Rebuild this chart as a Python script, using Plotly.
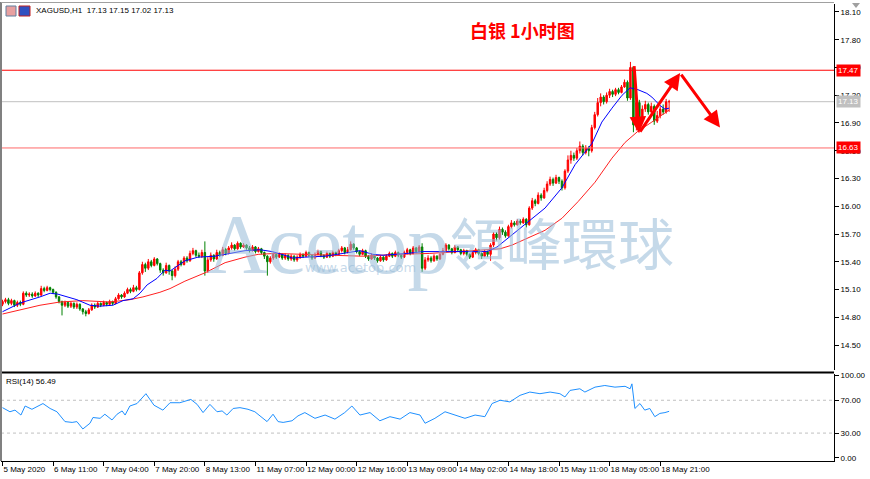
import plotly.graph_objects as go

# ---------------- data ----------------
first_open = 14.94
closes = [
    14.97,14.99,14.95,14.98,14.93,14.96,14.94,15.06,15.04,15.05,
    15.03,15.06,15.04,15.11,15.09,15.12,15.10,15.07,15.02,14.97,
    14.93,14.96,14.92,14.95,14.91,14.94,14.89,14.86,14.84,14.88,
    14.93,14.91,14.95,14.93,14.96,14.94,14.97,14.95,15.00,15.04,
    15.02,15.06,15.10,15.08,15.12,15.10,15.28,15.37,15.33,15.40,
    15.36,15.43,15.38,15.31,15.28,15.36,15.30,15.25,15.32,15.40,
    15.37,15.44,15.41,15.49,15.52,15.47,15.46,15.50,15.30,15.42,
    15.47,15.43,15.50,15.47,15.53,15.49,15.55,15.58,15.54,15.60,
    15.56,15.58,15.55,15.52,15.56,15.51,15.54,15.50,15.46,15.40,
    15.44,15.48,15.45,15.48,15.44,15.47,15.43,15.46,15.42,15.45,
    15.48,15.46,15.50,15.47,15.44,15.48,15.51,15.47,15.45,15.49,
    15.46,15.50,15.48,15.52,15.55,15.50,15.53,15.59,15.55,15.51,
    15.48,15.52,15.46,15.43,15.47,15.44,15.41,15.45,15.42,15.46,
    15.49,15.46,15.50,15.47,15.45,15.50,15.53,15.49,15.55,15.51,
    15.56,15.33,15.42,15.44,15.41,15.46,15.43,15.48,15.52,15.58,
    15.54,15.50,15.56,15.53,15.49,15.52,15.48,15.45,15.50,15.53,
    15.49,15.46,15.51,15.48,15.58,15.70,15.66,15.75,15.72,15.68,
    15.78,15.82,15.80,15.84,15.82,15.86,15.80,15.98,16.06,16.03,
    16.12,16.09,16.17,16.24,16.29,16.25,16.31,16.27,16.20,16.38,
    16.50,16.55,16.52,16.60,16.65,16.58,16.63,16.60,16.85,16.99,
    17.12,17.18,17.13,17.20,17.24,17.21,17.26,17.23,17.29,17.34,
    17.17,17.50,16.88,17.12,16.95,17.05,17.10,17.02,17.08,16.92,
    16.98,17.05,17.02,17.13,17.13,
]
highs = [
    14.99,15.01,15.01,15.00,14.99,14.98,14.98,15.08,15.08,15.07,
    15.07,15.08,15.07,15.14,15.13,15.14,15.13,15.11,15.08,15.03,
    14.98,14.98,14.97,14.97,14.96,14.96,14.95,14.90,14.88,14.90,
    14.95,14.95,14.97,14.96,14.98,14.97,14.99,14.98,15.02,15.06,
    15.05,15.08,15.12,15.12,15.15,15.14,15.30,15.40,15.39,15.43,
    15.42,15.45,15.44,15.39,15.33,15.39,15.37,15.31,15.35,15.42,
    15.42,15.46,15.46,15.52,15.55,15.53,15.50,15.53,15.62,15.45,
    15.50,15.48,15.53,15.52,15.56,15.55,15.57,15.61,15.59,15.62,
    15.61,15.60,15.59,15.57,15.58,15.57,15.56,15.55,15.51,15.47,
    15.46,15.50,15.49,15.50,15.49,15.49,15.48,15.48,15.47,15.47,
    15.50,15.49,15.52,15.51,15.48,15.50,15.53,15.52,15.48,15.51,
    15.50,15.52,15.51,15.54,15.57,15.56,15.56,15.62,15.60,15.56,
    15.52,15.54,15.53,15.47,15.49,15.48,15.45,15.47,15.46,15.48,
    15.51,15.50,15.52,15.51,15.48,15.52,15.55,15.54,15.57,15.56,
    15.58,15.60,15.45,15.47,15.46,15.48,15.47,15.50,15.55,15.60,
    15.59,15.55,15.58,15.57,15.54,15.54,15.53,15.49,15.52,15.55,
    15.54,15.50,15.53,15.52,15.60,15.72,15.72,15.78,15.77,15.74,
    15.80,15.85,15.84,15.86,15.86,15.88,15.87,16.00,16.09,16.08,
    16.15,16.14,16.20,16.27,16.32,16.31,16.34,16.32,16.29,16.40,
    16.55,16.60,16.58,16.63,16.70,16.67,16.66,16.65,16.88,17.02,
    17.17,17.22,17.20,17.23,17.27,17.26,17.28,17.28,17.31,17.37,
    17.36,17.56,17.51,17.18,17.15,17.09,17.14,17.12,17.12,17.10,
    17.03,17.08,17.10,17.16,17.15,
]
lows = [
    14.92,14.95,14.93,14.93,14.91,14.91,14.92,14.93,15.02,15.02,
    15.01,15.02,15.02,15.03,15.07,15.08,15.08,15.05,15.00,14.95,
    14.82,14.91,14.90,14.90,14.89,14.89,14.87,14.83,14.81,14.83,
    14.87,14.89,14.90,14.91,14.92,14.92,14.93,14.93,14.94,14.99,
    15.00,15.01,15.05,15.06,15.07,15.08,15.09,15.26,15.29,15.31,
    15.34,15.35,15.36,15.28,15.25,15.27,15.26,15.20,15.23,15.30,
    15.35,15.36,15.39,15.40,15.47,15.45,15.44,15.44,15.25,15.28,
    15.40,15.40,15.42,15.45,15.46,15.47,15.48,15.53,15.52,15.53,
    15.54,15.55,15.53,15.50,15.51,15.49,15.50,15.48,15.43,15.25,
    15.38,15.42,15.43,15.44,15.42,15.42,15.41,15.41,15.40,15.40,
    15.43,15.44,15.45,15.45,15.42,15.43,15.47,15.45,15.43,15.44,
    15.44,15.45,15.46,15.47,15.50,15.48,15.49,15.52,15.53,15.49,
    15.46,15.47,15.44,15.41,15.42,15.42,15.39,15.40,15.40,15.41,
    15.45,15.44,15.45,15.45,15.43,15.44,15.48,15.47,15.48,15.49,
    15.50,15.29,15.31,15.40,15.39,15.40,15.41,15.42,15.47,15.51,
    15.52,15.48,15.49,15.51,15.47,15.47,15.46,15.43,15.44,15.48,
    15.47,15.43,15.45,15.45,15.41,15.56,15.63,15.64,15.69,15.66,
    15.67,15.76,15.78,15.79,15.80,15.81,15.77,15.79,15.96,16.00,
    16.02,16.06,16.08,16.15,16.22,16.22,16.24,16.24,16.17,16.18,
    16.36,16.46,16.49,16.50,16.57,16.55,16.56,16.54,16.58,16.83,
    16.97,17.08,17.10,17.11,17.17,17.18,17.19,17.21,17.22,17.28,
    17.14,17.15,16.80,16.82,16.90,16.93,17.02,16.99,17.00,16.88,
    16.90,16.95,16.99,17.00,17.02,
]
opens = [first_open] + closes[:-1]
bars = list(range(len(closes)))

# moving averages (bar index, price)
ma_fast_x = [0,6,12.6,16,18.6,21.7,25,29.4,32.8,37.1,40.5,43.9,46.2,48.6,51.9,54.6,56.3,61.3,65.7,71.4,77.1,81.5,86.5,90.6,94.9,97.3,101.6,108.4,114.4,120.1,124.5,127.9,135.9,141.3,147,154.7,162.8,166.2,171.2,176.6,182.3,188,192.4,198.1,201.4,204.8,208.2,210.9,213.5,216.5,218.2,220.9,222.6,224]
ma_fast_y = [14.86,14.955,15.02,15.06,15.05,15.02,14.99,14.93,14.92,14.93,14.98,15.00,15.06,15.15,15.22,15.31,15.30,15.41,15.45,15.46,15.49,15.52,15.53,15.51,15.47,15.44,15.45,15.46,15.49,15.52,15.48,15.47,15.49,15.51,15.51,15.51,15.51,15.56,15.69,15.83,15.98,16.20,16.45,16.68,16.91,17.06,17.20,17.28,17.26,17.22,17.18,17.09,17.05,17.06]
ma_slow_x = [0,5.9,12.6,19.3,27,36.1,42.8,47.2,52.9,56.3,61.3,68,74.8,81.5,85.9,91.6,99.3,110.7,121.1,132.6,143.6,154.7,163.8,167.2,171.2,176.6,182.3,188,193.4,199.1,204.8,209.2,213.5,218.2,222.6,224]
ma_slow_y = [14.835,14.88,14.93,14.965,14.98,14.965,14.99,15.02,15.07,15.11,15.19,15.28,15.39,15.45,15.48,15.49,15.48,15.47,15.46,15.48,15.49,15.51,15.53,15.54,15.58,15.66,15.74,15.87,16.05,16.26,16.52,16.69,16.81,16.91,17.01,17.04]

# RSI(14)
rsi_x = [0,2.5,4.2,6.2,7.6,9.9,13.6,16,18.3,21,23.4,25,27,29.4,30.4,32.8,34.4,36.8,38.5,40.2,41.2,42.8,45.2,48.2,50.9,53.9,56.3,59.6,63.3,65.4,67.4,69.7,72.1,73.8,75.4,77.5,79.8,82.5,84.8,86.5,88.9,90.9,92.6,94.3,97.3,99.3,
         101.6,105,108.4,111.7,115,117.4,120.1,123.5,126.8,130.2,133.6,136.9,140.3,142,145.3,148.7,152,155.4,158.8,162.1,164.5,167.2,170.5,173.9,177.2,180.6,184,187.3,189,190.7,194,195.7,199.1,202.4,205.8,209.2,210.9,211.5,212.5,214.2,215.8,217.5,219.2,220.9,222.6,224]
rsi_y = [61,56,58,52,63,59,66,60,56,44,43,44,35,42,49,48,53,46,53,57,52,63,66,78,64,58,67,67,71,65,55,65,56,57,52,60,61,59,56,51,44,53,44,43,45,51,
         55,48,52,47,55,63,52,55,45,50,47,55,52,42,48,56,52,48,52,50,66,70,68,76,80,78,80,78,74,82,84,80,86,88,86,87,84,90,60,66,58,60,50,54,55,56.5]

rsi_levels = [70, 30]
resistance = 17.47
support = 16.63
bid = 17.13

tick_bars = [0,17,34,51,68,85,102,119,136,153,170,187,204,221]
tick_text = ["5 May 2020","6 May 11:00","7 May 04:00","7 May 20:00","8 May 13:00",
             "11 May 07:00","12 May 00:00","12 May 16:00","13 May 09:00","14 May 02:00",
             "14 May 18:00","15 May 11:00","18 May 05:00","18 May 21:00"]
price_ticks = [14.50,14.80,15.10,15.40,15.70,16.00,16.30,16.60,16.90,17.20,17.50,17.80,18.10]
rsi_ticks = [0,30,70,100]

# arrows drawn on the chart: (tail bar, tail price, head bar, head price)
arrows = [(212.2,17.53,213.9,16.79),(213.9,16.79,227.7,17.44),(227.7,17.44,241.1,16.85)]

header = "XAGUSD,H1  17.13 17.15 17.02 17.13"
title = "白银 1小时图"
rsi_label = "RSI(14) 56.49"

# ---------------- figure ----------------
W, H = 870, 479
ML, MR, MT, MB = 1, 36, 4, 18
plot_h = H - MT - MB
def py(pix):  # pixel y -> paper y
    return (H - MB - pix) / plot_h
def px(pix):
    return (pix - ML) / (W - ML - MR)

FONT = "Liberation Sans"
fig = go.Figure()

fig.add_trace(go.Candlestick(
    x=bars, open=opens, high=highs, low=lows, close=closes,
    increasing=dict(line=dict(color="#ff0000", width=1), fillcolor="#ff0000"),
    decreasing=dict(line=dict(color="#008000", width=1), fillcolor="#008000"),
    whiskerwidth=0, xaxis="x", yaxis="y", hoverinfo="skip", showlegend=False))
fig.add_trace(go.Scatter(x=ma_slow_x, y=ma_slow_y, mode="lines",
                         line=dict(color="#ff2020", width=1), xaxis="x", yaxis="y", showlegend=False))
fig.add_trace(go.Scatter(x=ma_fast_x, y=ma_fast_y, mode="lines",
                         line=dict(color="#0000ff", width=1), xaxis="x", yaxis="y", showlegend=False))
fig.add_trace(go.Scatter(x=rsi_x, y=rsi_y, mode="lines",
                         line=dict(color="#1e90ff", width=1), xaxis="x2", yaxis="y2", showlegend=False))

xr = [-0.5, (W - ML - MR - 1.5) / 2.976]
price_range = [14.23, 18.186]
rsi_range = [-4, 102]
price_dom = [py(370), 1]
rsi_dom = [0, py(374)]

fig.update_layout(
    width=W, height=H, margin=dict(l=ML, r=MR, t=MT, b=MB, autoexpand=False),
    paper_bgcolor="white", plot_bgcolor="white",
    font=dict(family=FONT, size=8, color="black"),
    showlegend=False,
    xaxis=dict(domain=[0, 1], range=xr, anchor="y", showticklabels=False, ticks="",
               showgrid=False, zeroline=False, rangeslider=dict(visible=False), fixedrange=True,
               automargin=False),
    xaxis2=dict(domain=[0, 1], range=xr, anchor="y2", matches="x", tickmode="array",
                tickvals=tick_bars, ticktext=tick_text, ticks="outside", ticklen=4, tickangle=0,
                tickcolor="black", ticklabelposition="outside right", showline=True,
                linecolor="black", linewidth=1, showgrid=False, zeroline=False, automargin=False,
                tickfont=dict(family=FONT, size=8, color="black"), rangeslider=dict(visible=False)),
    yaxis=dict(domain=price_dom, range=price_range, side="right", tickmode="array",
               tickvals=price_ticks, ticktext=[f"{v:.2f}" for v in price_ticks],
               ticks="outside", ticklen=4, tickcolor="black", showline=True, linecolor="black",
               linewidth=1, showgrid=False, zeroline=False, automargin=False,
               tickfont=dict(family=FONT, size=8, color="black")),
    yaxis2=dict(domain=rsi_dom, range=rsi_range, side="right", tickmode="array",
                tickvals=rsi_ticks, ticktext=[f"{v:.2f}" for v in rsi_ticks],
                ticks="outside", ticklen=4, tickcolor="black", showline=True, linecolor="black",
                linewidth=1, showgrid=False, zeroline=False, automargin=False,
                tickfont=dict(family=FONT, size=8, color="black")),
)

shapes = []
# price levels
shapes.append(dict(type="line", xref="paper", yref="y", x0=0, x1=1, y0=bid, y1=bid,
                   line=dict(color="#c0c0c0", width=1), layer="below"))
shapes.append(dict(type="line", xref="paper", yref="y", x0=0, x1=1, y0=resistance, y1=resistance,
                   line=dict(color="red", width=1)))
shapes.append(dict(type="line", xref="paper", yref="y", x0=0, x1=1, y0=support, y1=support,
                   line=dict(color="#ff6a6a", width=1)))
for lv in rsi_levels:
    shapes.append(dict(type="line", xref="paper", yref="y2", x0=0, x1=1, y0=lv, y1=lv,
                       line=dict(color="#c0c0c0", width=1, dash="dot"), layer="below"))
# panel separator and frame
shapes.append(dict(type="line", xref="paper", yref="paper", x0=0, x1=1, y0=py(372.5), y1=py(372.5),
                   line=dict(color="black", width=2)))
shapes.append(dict(type="line", xref="paper", yref="paper", x0=px(1), x1=px(1), y0=0, y1=py(2),
                   line=dict(color="#808080", width=2)))
shapes.append(dict(type="line", xref="paper", yref="paper", x0=0, x1=1, y0=py(2.5), y1=py(2.5),
                   line=dict(color="#a0a0a0", width=1)))
# header icons
shapes.append(dict(type="rect", xref="paper", yref="paper", x0=px(6), x1=px(16), y0=py(16), y1=py(6),
                   line=dict(color="#6080a0", width=1), fillcolor="#e8a0a0"))
shapes.append(dict(type="rect", xref="paper", yref="paper", x0=px(19), x1=px(30), y0=py(16), y1=py(6),
                   line=dict(color="#c02020", width=1), fillcolor="#3050c0"))
# shift marker
shapes.append(dict(type="path", xref="paper", yref="paper",
                   path=f"M {px(852)} {py(3)} L {px(860)} {py(3)} L {px(856)} {py(8)} Z",
                   fillcolor="#a0a0a0", line=dict(width=0)))
fig.update_layout(shapes=shapes)

ann = []
wm = "rgba(150,185,215,0.55)"
ann.append(dict(xref="paper", yref="paper", x=px(328), y=py(244), text="Acetop", showarrow=False,
                font=dict(family="Liberation Serif", size=84, color=wm), xanchor="center", yanchor="middle"))
ann.append(dict(xref="paper", yref="paper", x=px(562), y=py(241), text="領峰環球", showarrow=False,
                font=dict(family="Noto Sans CJK TC", size=56, color=wm), xanchor="center", yanchor="middle"))
ann.append(dict(xref="paper", yref="paper", x=px(360), y=py(267), text="www.acetop.com", showarrow=False,
                font=dict(family="DejaVu Sans", size=13, color=wm), xanchor="center", yanchor="middle"))
ann.append(dict(xref="paper", yref="paper", x=px(34), y=py(11), text=header, showarrow=False,
                font=dict(family=FONT, size=8, color="black"), xanchor="left", yanchor="middle"))
ann.append(dict(xref="paper", yref="paper", x=px(522), y=py(30), text=f"<b>{title}</b>", showarrow=False,
                font=dict(family="Noto Sans CJK SC", size=18, color="#ff0000"), xanchor="center", yanchor="middle"))
ann.append(dict(xref="paper", yref="paper", x=px(4), y=py(381), text=rsi_label, showarrow=False,
                font=dict(family=FONT, size=8, color="black"), xanchor="left", yanchor="middle"))
for val, bg in [(resistance, "#ff0000"), (bid, "#c0c0c0"), (support, "#ff0000")]:
    ann.append(dict(xref="paper", yref="y", x=1, y=val, text=f"{val:.2f}", showarrow=False,
                    xanchor="left", yanchor="middle", xshift=2, bgcolor=bg, borderpad=1,
                    font=dict(family=FONT, size=8, color="white")))
for (tx, ty, hx, hy) in arrows:
    ann.append(dict(xref="x", yref="y", axref="x", ayref="y", x=hx, y=hy, ax=tx, ay=ty, text="",
                    showarrow=True, arrowhead=2, arrowsize=1.1, arrowwidth=3, arrowcolor="#ff0000",
                    standoff=0, startstandoff=0))
fig.update_layout(annotations=ann)

fig.write_html("out.html")
